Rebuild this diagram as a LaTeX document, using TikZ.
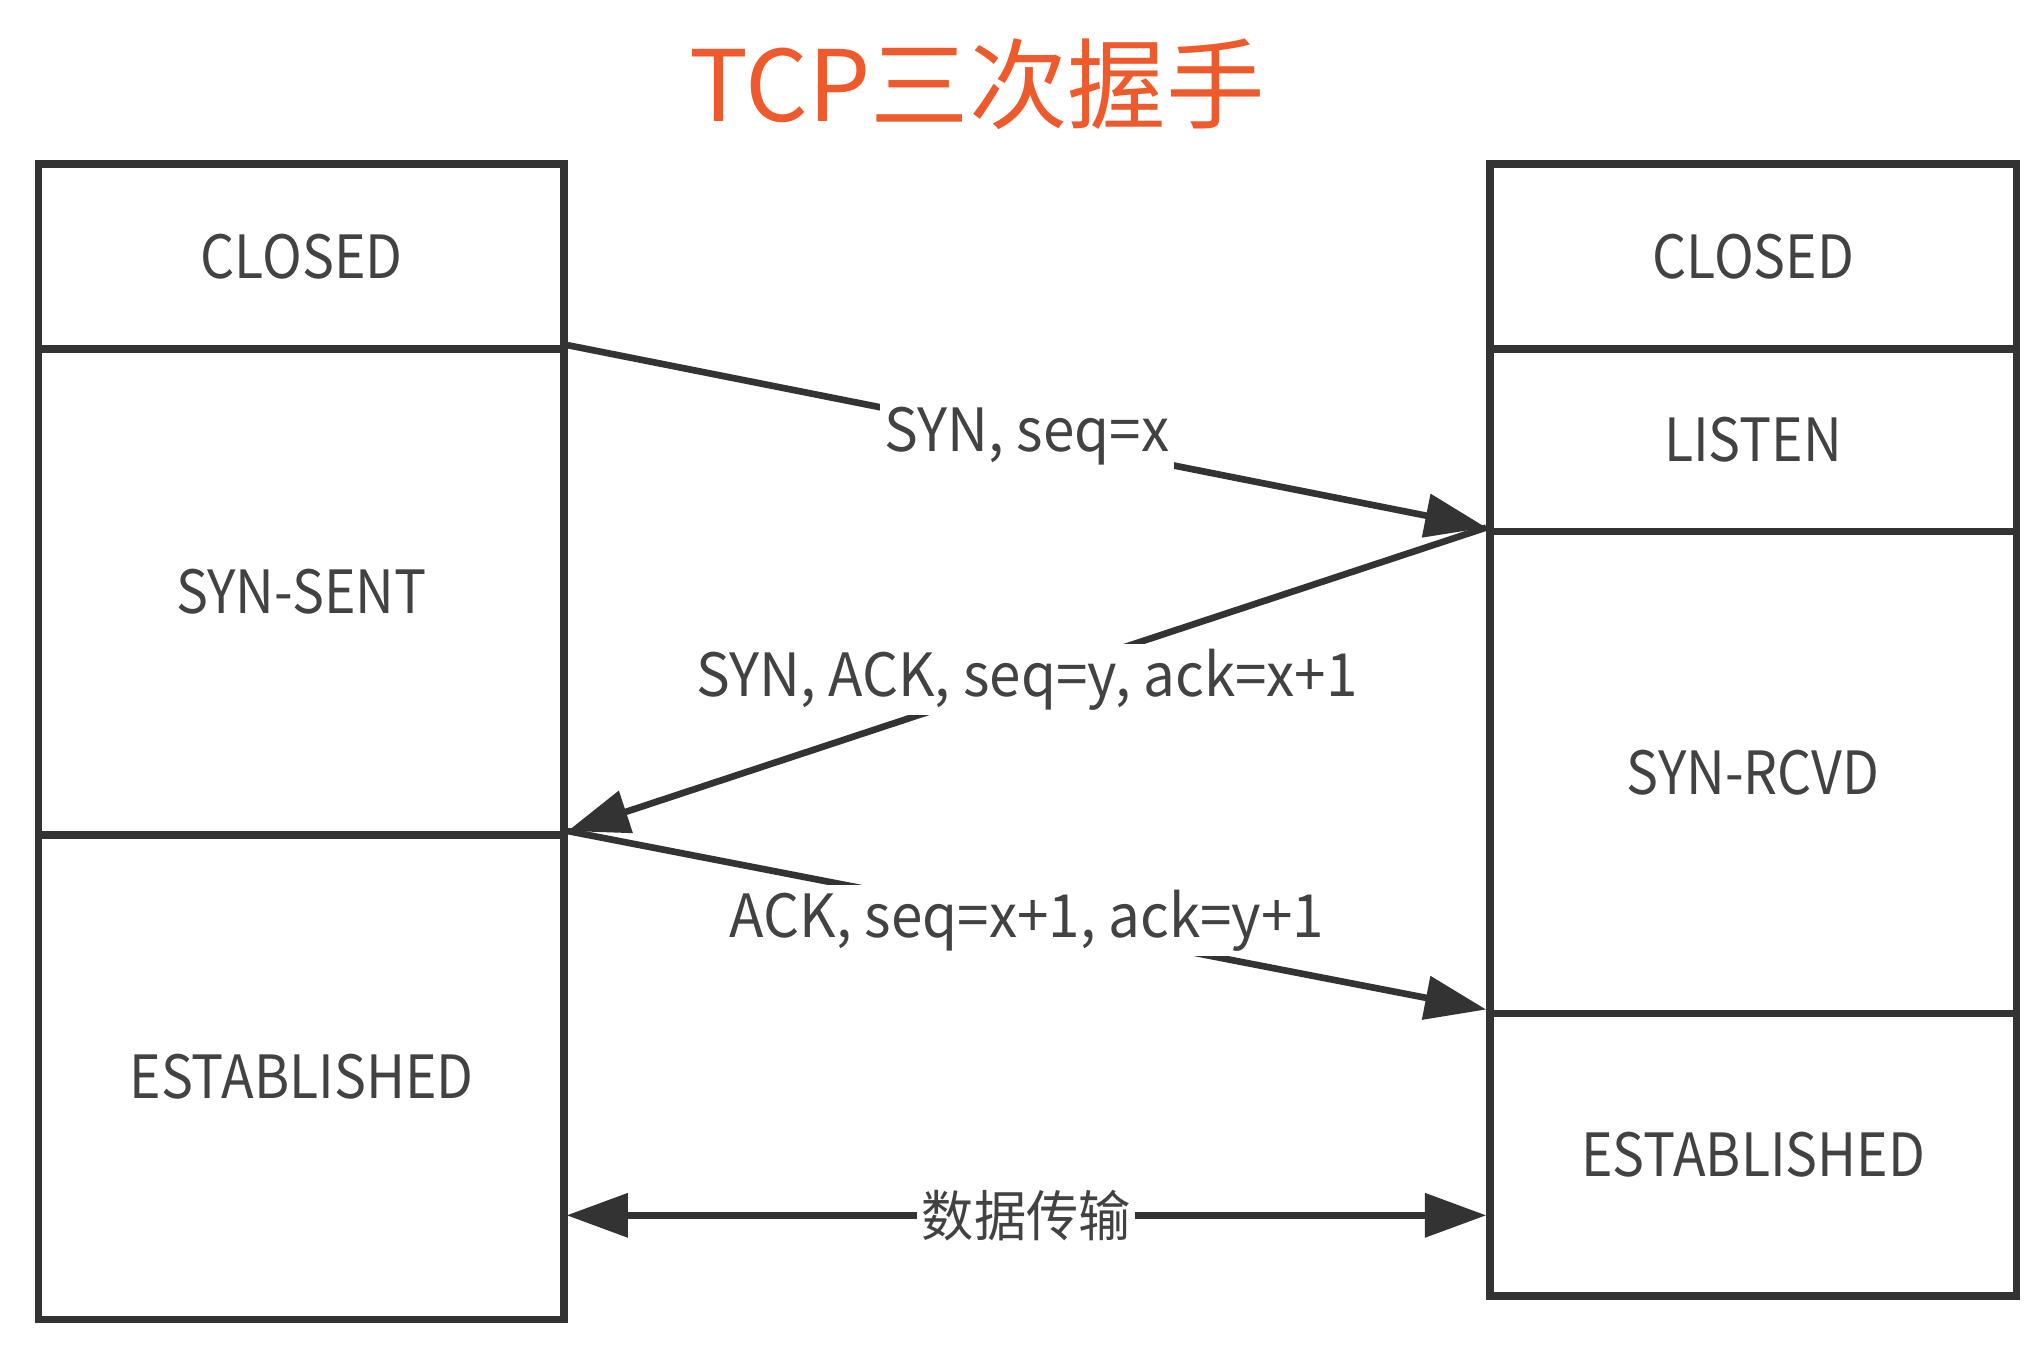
\documentclass[tikz,border=0pt]{standalone}
\usepackage{fontspec}
\setmainfont{Noto Sans CJK SC}[FakeStretch=0.95]
\newfontfamily\statefont{Noto Sans CJK SC}[FakeStretch=0.90]
\newfontfamily\titlefont{Noto Sans CJK SC}
\usetikzlibrary{arrows.meta}
\definecolor{ink}{HTML}{333333}
\definecolor{txt}{HTML}{424242}
\definecolor{ttl}{HTML}{EE5A2C}
\begin{document}
\begin{tikzpicture}[x=0.01cm,y=-0.01cm,
  cell/.style={draw=ink,line width=1.6pt,rectangle,anchor=north west,inner sep=0pt,
    text=txt,font=\statefont\fontsize{13}{16}\selectfont},
  tip/.style={Triangle[length=0.47cm,width=0.33cm]},
  msg/.style={draw=ink,line width=1.45pt,-{Triangle[length=0.47cm,width=0.33cm]}},
  lbl/.style={fill=white,inner sep=1pt,text=txt,font=\fontsize{13}{16}\selectfont}]
\useasboundingbox (0,0) rectangle (1560,1047);
\node[text=ttl,font=\titlefont\fontsize{21.5}{26}\selectfont] (title) at (750,65) {TCP三次握手};
% left column
\node[cell,minimum width=4.03cm,minimum height=1.42cm] (L1) at (27,123) {CLOSED};
\node[cell,minimum width=4.03cm,minimum height=3.73cm] (L2) at (27,265) {SYN-SENT};
\node[cell,minimum width=4.03cm,minimum height=3.72cm] (L3) at (27,638) {ESTABLISHED};
% right column
\node[cell,minimum width=4.04cm,minimum height=1.42cm] (R1) at (1141,123) {CLOSED};
\node[cell,minimum width=4.04cm,minimum height=1.40cm] (R2) at (1141,265) {LISTEN};
\node[cell,minimum width=4.04cm,minimum height=3.70cm] (R3) at (1141,405) {SYN-RCVD};
\node[cell,minimum width=4.04cm,minimum height=2.17cm] (R4) at (1141,775) {ESTABLISHED};
% messages
\draw[msg] (L2.north east) -- node[lbl] {SYN, seq=x} (R3.north west);
\draw[msg] (R3.north west) -- node[lbl] {SYN, ACK, seq=y, ack=x+1} (L3.north east);
\draw[msg] (L3.north east) -- node[lbl] {ACK, seq=x+1, ack=y+1} (R4.north west);
\coordinate (dl) at (435,933);
\coordinate (dr) at (1141,933);
\draw[msg,{Triangle[length=0.47cm,width=0.33cm]}-{Triangle[length=0.47cm,width=0.33cm]}] (dl) -- node[lbl,font=\fontsize{12}{14}\selectfont] {数据传输} (dr);
\end{tikzpicture}
\end{document}
